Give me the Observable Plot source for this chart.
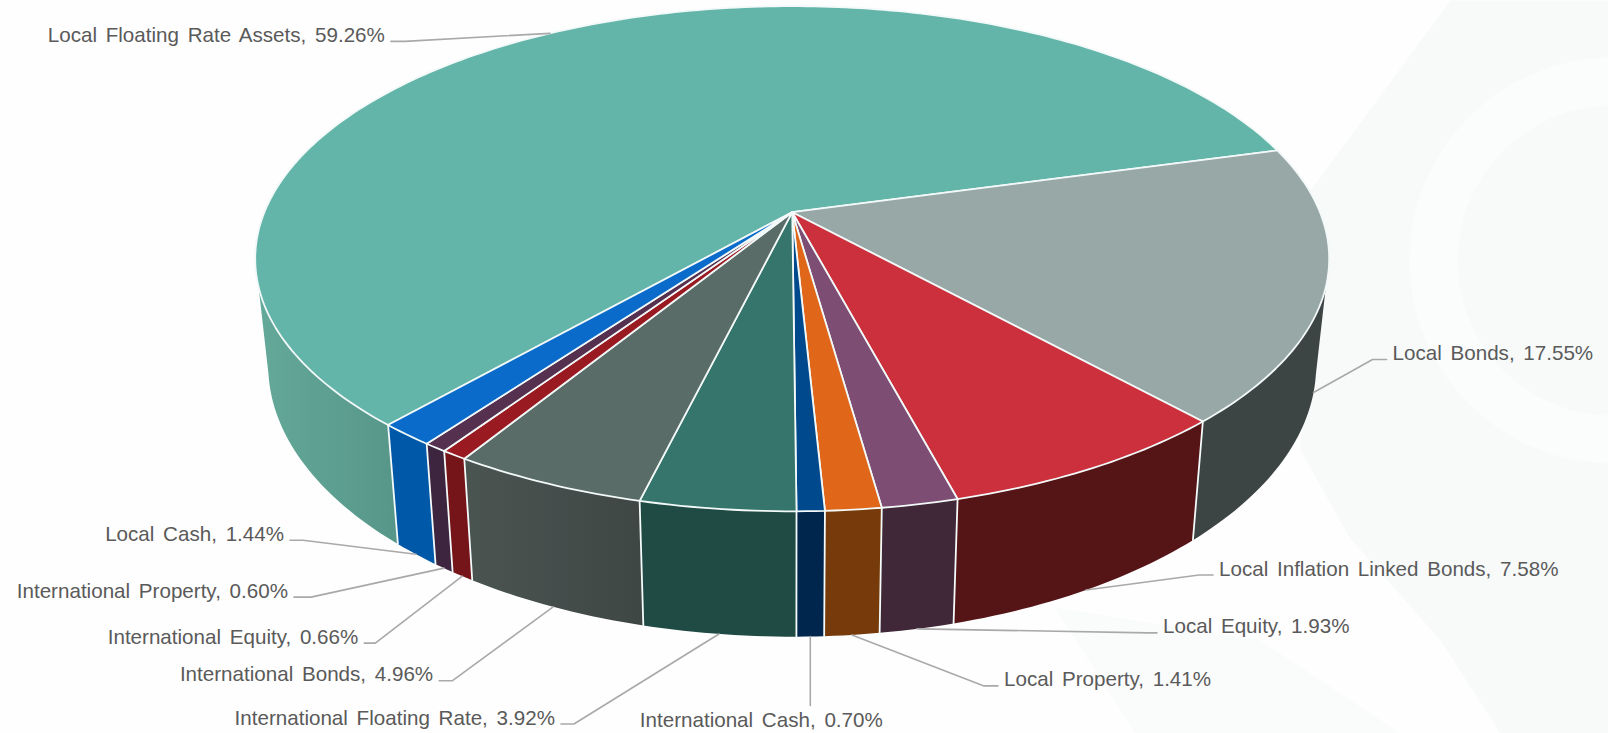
<!DOCTYPE html>
<html>
<head>
<meta charset="utf-8">
<script src="https://cdn.jsdelivr.net/npm/d3@7"></script>
<script src="https://cdn.jsdelivr.net/npm/@observablehq/plot@0.6"></script>
<style>
  html, body { margin: 0; padding: 0; background: #fefefe; overflow: hidden; }
  svg { display: block; }
</style>
</head>
<body>
<div id="chart"></div>
<script>
// Portfolio allocation, clockwise from the start of the largest holding.
const categories = [
  "Local Floating Rate Assets", "Local Bonds", "Local Inflation Linked Bonds",
  "Local Equity", "Local Property", "International Cash",
  "International Floating Rate", "International Bonds", "International Equity",
  "International Property", "Local Cash"
];
const shares = [59.26, 17.55, 7.58, 1.93, 1.41, 0.70, 3.92, 4.96, 0.66, 0.60, 1.44];

const topColors = ["#63b4a9", "#98a8a6", "#cb303c", "#7e4d74", "#e0661a", "#00498c",
                   "#35756b", "#5a6c67", "#9a1a22", "#56304f", "#0a6bcb"];
const wallColors = ["url(#wall-floating)", "#3d4444", "#551416", "#402838", "#773a0a", "#01264d",
                    "#204b45", "url(#wall-intl-bonds)", "#751519", "#3d2540", "#0059a8"];

// Leader routing, relative to the point where a leader touches its slice:
// offset of the elbow, then the length of the flat run towards the text.
const leaderElbow = [[-145, 8], [59, -33], [113, -15], [231, 4], [132, 51], [0, 69],
                     [-145, 90], [-101, 74], [-87, 67], [-133, 29], [-113, -14]];
const leaderRun = [-14, 14, 14, 9, 14, 0, -13, -13, -11, -17, -13];

// Camera model for the tilted disc: the near edge is drawn larger than the far edge.
const startAngle = 221.27;
const cx = 791.7;
const perspective = 0.1842;
const topFace = {rx: 527.8, ry: 244, cy: 211.7};
const baseFace = {rx: 515, ry: 262, cy: 315};
// Bearings, clockwise from the far edge, where each rim turns out of sight.
const topRimLimits = [106.9, 253.1];
const baseRimLimits = [102.5, 257.5];

function project(angle, face, radius = 1) {
  const rad = (angle * Math.PI) / 180;
  const X = radius * Math.sin(rad);
  const Z = -radius * Math.cos(rad);
  const w = 1 - perspective * Z;
  return {x: cx + (face.rx * X) / w, y: face.cy + (face.ry * Z) / w};
}
function arc(a0, a1, face) {
  const n = Math.max(2, Math.ceil(Math.abs(a1 - a0)));
  return d3.range(n + 1).map((i) => project(a0 + ((a1 - a0) * i) / n, face));
}

// Turn the shares into angular extents.
let running = startAngle;
const slices = categories.map((name, i) => {
  const a0 = running;
  const a1 = a0 + shares[i] * 3.6;
  running = a1;
  return {name, share: shares[i], a0, a1, mid: (a0 + a1) / 2, top: topColors[i], wall: wallColors[i], i};
});

const frontness = (angle) => -Math.cos((angle * Math.PI) / 180);

// The part of a slice's rim that faces the viewer, or null when it is all hidden.
function visibleRim(s, [from, to]) {
  for (const turn of [0, 360]) {
    const lo = Math.max(s.a0, from + turn);
    const hi = Math.min(s.a1, to + turn);
    if (lo < hi) return [lo, hi];
  }
  return null;
}

// Walls first, then seams between them, then the top faces.
const wallMarks = slices.filter((s) => visibleRim(s, topRimLimits)).map((s) => {
  const [topLo, topHi] = visibleRim(s, topRimLimits);
  const [baseLo, baseHi] = visibleRim(s, baseRimLimits);
  return Plot.line([...arc(topLo, topHi, topFace), ...arc(baseHi, baseLo, baseFace)], {
    x: "x", y: "y", fill: s.wall, stroke: "none", curve: "linear-closed"
  });
});

const seamMarks = slices
  .filter((s) => frontness(s.a0) > perspective)
  .map((s) =>
    Plot.line([project(s.a0, topFace), project(s.a0, baseFace)], {
      x: "x", y: "y", stroke: "#f4fbfa", strokeWidth: 1.8
    })
  );

const faceMarks = slices.map((s) =>
  Plot.line([project(0, topFace, 0), ...arc(s.a0, s.a1, topFace)], {
    x: "x", y: "y", fill: s.top, stroke: "#f2f9f8", strokeWidth: 1.8,
    strokeLinejoin: "round", curve: "linear-closed"
  })
);

// Labels with their leaders.
const labels = slices.map((s) => {
  const anchor = project(s.mid, frontness(s.mid) > 0 ? baseFace : topFace);
  const [dx, dy] = leaderElbow[s.i];
  const run = leaderRun[s.i];
  const elbow = {x: anchor.x + dx, y: anchor.y + dy};
  const end = {x: elbow.x + run, y: elbow.y};
  const below = run === 0;
  return {
    text: `${s.name}, ${s.share.toFixed(2)}%`,
    path: [anchor, elbow, end],
    x: below ? end.x - 49 : end.x + Math.sign(run) * 6,
    y: below ? end.y + 15 : end.y - 6,
    textAnchor: below ? "middle" : run > 0 ? "start" : "end"
  };
});
const leaderMarks = labels.map((l) =>
  Plot.line(l.path, {x: "x", y: "y", stroke: "#a9a9a9", strokeWidth: 1.6})
);
const textMarks = ["start", "middle", "end"].map((anchor) =>
  Plot.text(labels.filter((l) => l.textAnchor === anchor), {
    x: "x", y: "y", text: "text", textAnchor: anchor, fill: "#5a5a5a",
    fontSize: 20.6, lineAnchor: "middle"
  })
);

// Pale page artwork behind the chart.
const backdropMarks = [
  Plot.line([[1450, 0], [1310, 190], [1300, 450], [1349, 537], [1440, 640], [1500, 733], [1608, 733], [1608, 0]], {
    x: (d) => d[0], y: (d) => d[1], fill: "#f8fafa", curve: "linear-closed"
  }),
  Plot.line([[1054, 607], [1135, 733], [1400, 733], [1260, 640]], {
    x: (d) => d[0], y: (d) => d[1], fill: "#fafbfb", curve: "linear-closed"
  }),
  Plot.dot([[1612, 260]], {x: (d) => d[0], y: (d) => d[1], r: 203, fill: "#fbfcfc"}),
  Plot.dot([[1612, 260]], {x: (d) => d[0], y: (d) => d[1], r: 155, fill: "#f8fafa"})
];

// Shading that runs across the two longest curved walls.
function wallGradients() {
  const defs = d3.create("svg:defs");
  const add = (id, x1, x2, from, to) => {
    const g = defs.append("linearGradient").attr("id", id)
      .attr("gradientUnits", "userSpaceOnUse")
      .attr("x1", x1).attr("x2", x2).attr("y1", 0).attr("y2", 0);
    g.append("stop").attr("offset", 0).attr("stop-color", from);
    g.append("stop").attr("offset", 1).attr("stop-color", to);
  };
  add("wall-floating", 255, 400, "#64a999", "#569688");
  add("wall-intl-bonds", 465, 640, "#4a5451", "#3f4745");
  return defs.node();
}

const chart = Plot.plot({
  width: 1608,
  height: 733,
  margin: 0,
  x: {domain: [0, 1608], range: [0, 1608], axis: null},
  y: {domain: [0, 733], range: [0, 733], axis: null},
  style: {background: "transparent", fontFamily: "'Liberation Sans', Arial, sans-serif", wordSpacing: "3px"},
  marks: [wallGradients, ...backdropMarks, ...wallMarks, ...seamMarks, ...faceMarks, ...leaderMarks, ...textMarks]
});
document.getElementById("chart").appendChild(chart);
</script>
</body>
</html>
